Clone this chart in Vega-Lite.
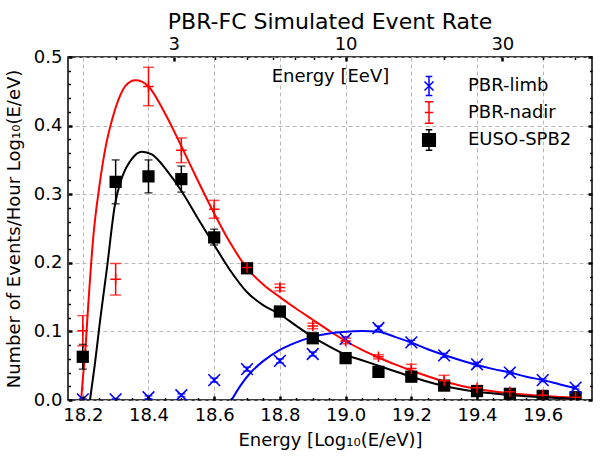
{
  "$schema": "https://vega.github.io/schema/vega-lite/v6.json",
  "width": 524,
  "height": 343,
  "autosize": {"type": "none"},
  "padding": {"left": 68, "top": 57, "right": 21, "bottom": 57},
  "title": {"text": "PBR-FC Simulated Event Rate", "offset": 1, "anchor": "middle"},
  "datasets": {
    "pts": [
      {"s": "EUSO-SPB2", "e": 18.2, "v": 0.063, "lo": 0.045, "hi": 0.081},
      {"s": "EUSO-SPB2", "e": 18.3, "v": 0.318, "lo": 0.286, "hi": 0.350},
      {"s": "EUSO-SPB2", "e": 18.4, "v": 0.326, "lo": 0.302, "hi": 0.350},
      {"s": "EUSO-SPB2", "e": 18.5, "v": 0.322, "lo": 0.303, "hi": 0.341},
      {"s": "EUSO-SPB2", "e": 18.6, "v": 0.237, "lo": 0.226, "hi": 0.249},
      {"s": "EUSO-SPB2", "e": 18.7, "v": 0.192, "lo": 0.186, "hi": 0.198},
      {"s": "EUSO-SPB2", "e": 18.8, "v": 0.129, "lo": 0.124, "hi": 0.134},
      {"s": "EUSO-SPB2", "e": 18.9, "v": 0.090, "lo": 0.086, "hi": 0.094},
      {"s": "EUSO-SPB2", "e": 19.0, "v": 0.061, "lo": 0.058, "hi": 0.064},
      {"s": "EUSO-SPB2", "e": 19.1, "v": 0.041, "lo": 0.038, "hi": 0.044},
      {"s": "EUSO-SPB2", "e": 19.2, "v": 0.034, "lo": 0.031, "hi": 0.037},
      {"s": "EUSO-SPB2", "e": 19.3, "v": 0.021, "lo": 0.019, "hi": 0.023},
      {"s": "EUSO-SPB2", "e": 19.4, "v": 0.013, "lo": 0.011, "hi": 0.015},
      {"s": "EUSO-SPB2", "e": 19.5, "v": 0.009, "lo": 0.008, "hi": 0.010},
      {"s": "EUSO-SPB2", "e": 19.6, "v": 0.006, "lo": 0.005, "hi": 0.007},
      {"s": "EUSO-SPB2", "e": 19.7, "v": 0.004, "lo": 0.003, "hi": 0.005},
      {"s": "PBR-nadir", "e": 18.2, "v": 0.101, "lo": 0.079, "hi": 0.123},
      {"s": "PBR-nadir", "e": 18.3, "v": 0.176, "lo": 0.153, "hi": 0.199},
      {"s": "PBR-nadir", "e": 18.4, "v": 0.457, "lo": 0.429, "hi": 0.485},
      {"s": "PBR-nadir", "e": 18.5, "v": 0.364, "lo": 0.346, "hi": 0.382},
      {"s": "PBR-nadir", "e": 18.6, "v": 0.278, "lo": 0.265, "hi": 0.291},
      {"s": "PBR-nadir", "e": 18.7, "v": 0.193, "lo": 0.187, "hi": 0.199},
      {"s": "PBR-nadir", "e": 18.8, "v": 0.164, "lo": 0.159, "hi": 0.169},
      {"s": "PBR-nadir", "e": 18.9, "v": 0.108, "lo": 0.104, "hi": 0.112},
      {"s": "PBR-nadir", "e": 19.0, "v": 0.086, "lo": 0.082, "hi": 0.090},
      {"s": "PBR-nadir", "e": 19.1, "v": 0.063, "lo": 0.060, "hi": 0.066},
      {"s": "PBR-nadir", "e": 19.2, "v": 0.046, "lo": 0.040, "hi": 0.052},
      {"s": "PBR-nadir", "e": 19.3, "v": 0.028, "lo": 0.020, "hi": 0.036},
      {"s": "PBR-nadir", "e": 19.4, "v": 0.018, "lo": 0.015, "hi": 0.021},
      {"s": "PBR-nadir", "e": 19.5, "v": 0.012, "lo": 0.010, "hi": 0.014},
      {"s": "PBR-nadir", "e": 19.6, "v": 0.007, "lo": 0.005, "hi": 0.009},
      {"s": "PBR-nadir", "e": 19.7, "v": 0.004, "lo": 0.003, "hi": 0.005},
      {"s": "PBR-limb", "e": 18.2, "v": 0.001, "lo": 0.000, "hi": 0.002},
      {"s": "PBR-limb", "e": 18.3, "v": 0.001, "lo": 0.000, "hi": 0.002},
      {"s": "PBR-limb", "e": 18.4, "v": 0.004, "lo": 0.002, "hi": 0.006},
      {"s": "PBR-limb", "e": 18.5, "v": 0.007, "lo": 0.005, "hi": 0.009},
      {"s": "PBR-limb", "e": 18.6, "v": 0.029, "lo": 0.026, "hi": 0.032},
      {"s": "PBR-limb", "e": 18.7, "v": 0.045, "lo": 0.042, "hi": 0.048},
      {"s": "PBR-limb", "e": 18.8, "v": 0.057, "lo": 0.054, "hi": 0.060},
      {"s": "PBR-limb", "e": 18.9, "v": 0.067, "lo": 0.064, "hi": 0.070},
      {"s": "PBR-limb", "e": 19.0, "v": 0.089, "lo": 0.086, "hi": 0.092},
      {"s": "PBR-limb", "e": 19.1, "v": 0.105, "lo": 0.102, "hi": 0.108},
      {"s": "PBR-limb", "e": 19.2, "v": 0.084, "lo": 0.081, "hi": 0.087},
      {"s": "PBR-limb", "e": 19.3, "v": 0.065, "lo": 0.062, "hi": 0.068},
      {"s": "PBR-limb", "e": 19.4, "v": 0.052, "lo": 0.049, "hi": 0.055},
      {"s": "PBR-limb", "e": 19.5, "v": 0.040, "lo": 0.038, "hi": 0.042},
      {"s": "PBR-limb", "e": 19.6, "v": 0.029, "lo": 0.027, "hi": 0.031},
      {"s": "PBR-limb", "e": 19.7, "v": 0.018, "lo": 0.016, "hi": 0.020}
    ],
    "fit": [
      {"s": "PBR-nadir", "e": 18.195, "v": 0.0},
      {"s": "PBR-nadir", "e": 18.2, "v": 0.03},
      {"s": "PBR-nadir", "e": 18.207, "v": 0.068},
      {"s": "PBR-nadir", "e": 18.217, "v": 0.141},
      {"s": "PBR-nadir", "e": 18.232, "v": 0.238},
      {"s": "PBR-nadir", "e": 18.25, "v": 0.31},
      {"s": "PBR-nadir", "e": 18.27, "v": 0.37},
      {"s": "PBR-nadir", "e": 18.29, "v": 0.41},
      {"s": "PBR-nadir", "e": 18.313, "v": 0.443},
      {"s": "PBR-nadir", "e": 18.33, "v": 0.458},
      {"s": "PBR-nadir", "e": 18.36, "v": 0.466},
      {"s": "PBR-nadir", "e": 18.38, "v": 0.464},
      {"s": "PBR-nadir", "e": 18.4, "v": 0.457},
      {"s": "PBR-nadir", "e": 18.45, "v": 0.418},
      {"s": "PBR-nadir", "e": 18.5, "v": 0.37},
      {"s": "PBR-nadir", "e": 18.55, "v": 0.32},
      {"s": "PBR-nadir", "e": 18.6, "v": 0.272},
      {"s": "PBR-nadir", "e": 18.65, "v": 0.228},
      {"s": "PBR-nadir", "e": 18.7, "v": 0.192},
      {"s": "PBR-nadir", "e": 18.75, "v": 0.168},
      {"s": "PBR-nadir", "e": 18.8, "v": 0.15},
      {"s": "PBR-nadir", "e": 18.85, "v": 0.133},
      {"s": "PBR-nadir", "e": 18.9, "v": 0.117},
      {"s": "PBR-nadir", "e": 18.95, "v": 0.101},
      {"s": "PBR-nadir", "e": 19.0, "v": 0.086},
      {"s": "PBR-nadir", "e": 19.05, "v": 0.073},
      {"s": "PBR-nadir", "e": 19.1, "v": 0.062},
      {"s": "PBR-nadir", "e": 19.15, "v": 0.052},
      {"s": "PBR-nadir", "e": 19.2, "v": 0.043},
      {"s": "PBR-nadir", "e": 19.3, "v": 0.027},
      {"s": "PBR-nadir", "e": 19.4, "v": 0.016},
      {"s": "PBR-nadir", "e": 19.5, "v": 0.0097},
      {"s": "PBR-nadir", "e": 19.6, "v": 0.0058},
      {"s": "PBR-nadir", "e": 19.7, "v": 0.0034},
      {"s": "EUSO-SPB2", "e": 18.222, "v": 0.0},
      {"s": "EUSO-SPB2", "e": 18.237, "v": 0.053},
      {"s": "EUSO-SPB2", "e": 18.253, "v": 0.117},
      {"s": "EUSO-SPB2", "e": 18.273, "v": 0.19},
      {"s": "EUSO-SPB2", "e": 18.298, "v": 0.285},
      {"s": "EUSO-SPB2", "e": 18.32, "v": 0.325},
      {"s": "EUSO-SPB2", "e": 18.35, "v": 0.352},
      {"s": "EUSO-SPB2", "e": 18.38, "v": 0.362},
      {"s": "EUSO-SPB2", "e": 18.41, "v": 0.358},
      {"s": "EUSO-SPB2", "e": 18.435, "v": 0.347},
      {"s": "EUSO-SPB2", "e": 18.455, "v": 0.335},
      {"s": "EUSO-SPB2", "e": 18.5, "v": 0.305},
      {"s": "EUSO-SPB2", "e": 18.55, "v": 0.265},
      {"s": "EUSO-SPB2", "e": 18.6, "v": 0.226},
      {"s": "EUSO-SPB2", "e": 18.65, "v": 0.188},
      {"s": "EUSO-SPB2", "e": 18.7, "v": 0.157},
      {"s": "EUSO-SPB2", "e": 18.75, "v": 0.138},
      {"s": "EUSO-SPB2", "e": 18.8, "v": 0.125},
      {"s": "EUSO-SPB2", "e": 18.85, "v": 0.108},
      {"s": "EUSO-SPB2", "e": 18.9, "v": 0.092},
      {"s": "EUSO-SPB2", "e": 18.95, "v": 0.078},
      {"s": "EUSO-SPB2", "e": 19.0, "v": 0.066},
      {"s": "EUSO-SPB2", "e": 19.05, "v": 0.058},
      {"s": "EUSO-SPB2", "e": 19.1, "v": 0.05},
      {"s": "EUSO-SPB2", "e": 19.15, "v": 0.042},
      {"s": "EUSO-SPB2", "e": 19.2, "v": 0.034},
      {"s": "EUSO-SPB2", "e": 19.3, "v": 0.0204},
      {"s": "EUSO-SPB2", "e": 19.4, "v": 0.012},
      {"s": "EUSO-SPB2", "e": 19.5, "v": 0.0073},
      {"s": "EUSO-SPB2", "e": 19.6, "v": 0.004},
      {"s": "EUSO-SPB2", "e": 19.7, "v": 0.002},
      {"s": "PBR-limb", "e": 18.653, "v": 0.0},
      {"s": "PBR-limb", "e": 18.68, "v": 0.021},
      {"s": "PBR-limb", "e": 18.709, "v": 0.039},
      {"s": "PBR-limb", "e": 18.75, "v": 0.057},
      {"s": "PBR-limb", "e": 18.8, "v": 0.073},
      {"s": "PBR-limb", "e": 18.85, "v": 0.084},
      {"s": "PBR-limb", "e": 18.9, "v": 0.092},
      {"s": "PBR-limb", "e": 18.95, "v": 0.097},
      {"s": "PBR-limb", "e": 19.0, "v": 0.0996},
      {"s": "PBR-limb", "e": 19.05, "v": 0.1005},
      {"s": "PBR-limb", "e": 19.1, "v": 0.0995},
      {"s": "PBR-limb", "e": 19.15, "v": 0.092},
      {"s": "PBR-limb", "e": 19.2, "v": 0.0836},
      {"s": "PBR-limb", "e": 19.25, "v": 0.074},
      {"s": "PBR-limb", "e": 19.3, "v": 0.0656},
      {"s": "PBR-limb", "e": 19.35, "v": 0.058},
      {"s": "PBR-limb", "e": 19.4, "v": 0.051},
      {"s": "PBR-limb", "e": 19.45, "v": 0.045},
      {"s": "PBR-limb", "e": 19.5, "v": 0.04},
      {"s": "PBR-limb", "e": 19.55, "v": 0.034},
      {"s": "PBR-limb", "e": 19.6, "v": 0.029},
      {"s": "PBR-limb", "e": 19.65, "v": 0.023},
      {"s": "PBR-limb", "e": 19.7, "v": 0.017}
    ]
  },
  "resolve": {"axis": {"x": "independent", "y": "independent"}},
  "layer": [
    {
      "data": {"name": "fit"},
      "mark": {"type": "line", "strokeWidth": 2, "interpolate": "monotone", "clip": true},
      "encoding": {
        "x": {"field": "e", "type": "quantitative", "scale": {"domain": [18.155, 19.75], "nice": false, "zero": false},
          "axis": {"orient": "bottom", "values": [18.2, 18.4, 18.6, 18.8, 19.0, 19.2, 19.4, 19.6], "format": ".1f", "ticks": false, "grid": true, "gridDash": [4, 3], "gridColor": "#b8b8b8", "gridWidth": 1, "labelPadding": 6, "labelOverlap": false, "labelFlush": false, "title": "Energy [Log₁₀(E/eV)]", "titlePadding": 7}},
        "y": {"field": "v", "type": "quantitative", "scale": {"domain": [0, 0.5], "nice": false},
          "axis": {"orient": "left", "values": [0, 0.1, 0.2, 0.3, 0.4, 0.5], "format": ".1f", "ticks": false, "grid": true, "gridDash": [4, 3], "gridColor": "#b8b8b8", "gridWidth": 1, "labelPadding": 6, "labelOverlap": false, "labelFlush": false, "title": "Number of Events/Hour Log₁₀(E/eV)", "titlePadding": 10}},
        "color": {"condition": [{"test": "datum.s === 'PBR-limb'", "value": "#0000ff"}, {"test": "datum.s === 'PBR-nadir'", "value": "#ff0000"}], "value": "#000000"},
        "detail": {"field": "s"}
      }
    },
    {
      "data": {"name": "pts"},
      "mark": {"type": "rule", "strokeWidth": 1.5, "clip": true},
      "encoding": {
        "x": {"field": "e", "type": "quantitative",
          "axis": {"orient": "bottom", "values": [18.2, 18.4, 18.6, 18.8, 19.0, 19.2, 19.4, 19.6], "labels": false, "ticks": true, "tickSize": 4, "tickWidth": 2.5, "offset": -4, "grid": false, "title": null, "zindex": 1}},
        "y": {"field": "lo", "type": "quantitative",
          "axis": {"orient": "left", "values": [0, 0.1, 0.2, 0.3, 0.4, 0.5], "labels": false, "ticks": true, "tickSize": 4, "tickWidth": 2.5, "offset": -4, "grid": false, "title": null, "zindex": 1}},
        "y2": {"field": "hi"},
        "color": {"condition": [{"test": "datum.s === 'PBR-limb'", "value": "#0000ff"}, {"test": "datum.s === 'PBR-nadir'", "value": "#ff0000"}], "value": "#000000"}
      }
    },
    {
      "data": {"name": "pts"},
      "mark": {"type": "tick", "orient": "horizontal", "thickness": 1.5, "clip": true},
      "encoding": {
        "x": {"field": "e", "type": "quantitative",
          "axis": {"orient": "bottom", "values": [18.25, 18.3, 18.35, 18.45, 18.5, 18.55, 18.65, 18.7, 18.75, 18.85, 18.9, 18.95, 19.05, 19.1, 19.15, 19.25, 19.3, 19.35, 19.45, 19.5, 19.55, 19.65, 19.7], "labels": false, "ticks": true, "tickSize": 2.5, "tickWidth": 1.5, "offset": -2.5, "grid": false, "title": null, "zindex": 1}},
        "y": {"field": "lo", "type": "quantitative",
          "axis": {"orient": "left", "values": [0.02, 0.04, 0.06, 0.08, 0.12, 0.14, 0.16, 0.18, 0.22, 0.24, 0.26, 0.28, 0.32, 0.34, 0.36, 0.38, 0.42, 0.44, 0.46, 0.48], "labels": false, "ticks": true, "tickSize": 2.5, "tickWidth": 1.5, "offset": -2.5, "grid": false, "title": null, "zindex": 1}},
        "color": {"condition": [{"test": "datum.s === 'PBR-limb'", "value": "#0000ff"}, {"test": "datum.s === 'PBR-nadir'", "value": "#ff0000"}], "value": "#000000"},
        "size": {"condition": {"test": "datum.s === 'PBR-nadir'", "value": 11}, "value": 8}
      }
    },
    {
      "data": {"name": "pts"},
      "mark": {"type": "tick", "orient": "horizontal", "thickness": 1.5, "clip": true},
      "encoding": {
        "x": {"field": "e", "type": "quantitative",
          "axis": {"orient": "top", "values": [18.4771, 19.0, 19.4771], "labelExpr": "datum.value < 18.7 ? '3' : (datum.value < 19.2 ? '10' : '30')", "ticks": false, "labelPadding": 4, "labelOverlap": false, "labelFlush": false, "grid": false, "title": "Energy [EeV]", "titleX": 262, "titleY": 19, "titleAlign": "center", "titleBaseline": "middle"}},
        "y": {"field": "hi", "type": "quantitative",
          "axis": {"orient": "right", "values": [0, 0.1, 0.2, 0.3, 0.4, 0.5], "labels": false, "ticks": true, "tickSize": 4, "tickWidth": 2.5, "offset": -4, "grid": false, "title": null, "zindex": 1}},
        "color": {"condition": [{"test": "datum.s === 'PBR-limb'", "value": "#0000ff"}, {"test": "datum.s === 'PBR-nadir'", "value": "#ff0000"}], "value": "#000000"},
        "size": {"condition": {"test": "datum.s === 'PBR-nadir'", "value": 11}, "value": 8}
      }
    },
    {
      "data": {"name": "pts"},
      "transform": [{"filter": "datum.s === 'EUSO-SPB2'"}],
      "mark": {"type": "point", "shape": "square", "size": 150, "filled": true, "color": "#000000", "opacity": 1, "clip": true},
      "encoding": {
        "x": {"field": "e", "type": "quantitative",
          "axis": {"orient": "top", "values": [18.4771, 19.0, 19.4771], "labels": false, "ticks": true, "tickSize": 4, "tickWidth": 2.5, "offset": -4, "grid": false, "title": null, "zindex": 1}},
        "y": {"field": "v", "type": "quantitative",
          "axis": {"orient": "right", "values": [0.02, 0.04, 0.06, 0.08, 0.12, 0.14, 0.16, 0.18, 0.22, 0.24, 0.26, 0.28, 0.32, 0.34, 0.36, 0.38, 0.42, 0.44, 0.46, 0.48], "labels": false, "ticks": true, "tickSize": 2.5, "tickWidth": 1.5, "offset": -2.5, "grid": false, "title": null, "zindex": 1}}
      }
    },
    {
      "data": {"name": "pts"},
      "transform": [{"filter": "datum.s === 'PBR-limb'"}],
      "mark": {"type": "point", "shape": "M-1,-1L1,1M-1,1L1,-1", "size": 137, "filled": false, "stroke": "#0000ff", "strokeWidth": 1.6, "opacity": 1, "clip": true},
      "encoding": {
        "x": {"field": "e", "type": "quantitative",
          "axis": {"orient": "top", "values": [18.301, 18.6021, 18.699, 18.7782, 18.8451, 18.9031, 18.9542, 19.301, 19.6021, 19.699], "labels": false, "ticks": true, "tickSize": 2.5, "tickWidth": 1.5, "offset": -2.5, "grid": false, "title": null, "zindex": 1}},
        "y": {"field": "v", "type": "quantitative", "axis": null}
      }
    },
    {
      "data": {"name": "pts"},
      "transform": [{"filter": "datum.s === 'PBR-nadir'"}],
      "mark": {"type": "point", "shape": "M-1,0L1,0M0,-1L0,1", "size": 110, "filled": false, "stroke": "#ff0000", "strokeWidth": 1.5, "opacity": 1, "clip": true},
      "encoding": {
        "x": {"field": "e", "type": "quantitative", "axis": null},
        "y": {"field": "v", "type": "quantitative", "axis": null}
      }
    },
    {
      "data": {"name": "pts"},
      "mark": {"type": "point", "filled": true, "opacity": 0, "strokeWidth": 1.5},
      "encoding": {
        "x": {"field": "e", "type": "quantitative", "axis": null},
        "y": {"field": "v", "type": "quantitative", "axis": null},
        "color": {"field": "s", "type": "nominal", "scale": {"domain": ["PBR-limb", "PBR-nadir", "EUSO-SPB2"], "range": ["#0000ff", "#ff0000", "#000000"]}, "legend": {"title": null, "symbolOpacity": 1}},
        "stroke": {"field": "s", "type": "nominal", "scale": {"domain": ["PBR-limb", "PBR-nadir", "EUSO-SPB2"], "range": ["#0000ff", "#ff0000", "#000000"]}, "legend": {"title": null, "symbolOpacity": 1}},
        "shape": {"field": "s", "type": "nominal", "scale": {"domain": ["PBR-limb", "PBR-nadir", "EUSO-SPB2"], "range": [
          "M-0.75,-0.75L0.75,0.75M-0.75,0.75L0.75,-0.75M0,-1.6L0,1.6M-0.55,-1.6L0.55,-1.6M-0.55,1.6L0.55,1.6",
          "M0,-1.8L0,1.8M-0.7,-1.8L0.7,-1.8M-0.7,1.8L0.7,1.8M-0.7,0L0.7,0",
          "M-1.05,-1.05L1.05,-1.05L1.05,1.05L-1.05,1.05ZM0,-1.7L0,1.7M-0.55,-1.7L0.55,-1.7M-0.55,1.7L0.55,1.7"
        ]}, "legend": {"title": null, "symbolOpacity": 1}}
      }
    }
  ],
  "config": {
    "view": {"stroke": "#000000", "strokeWidth": 1.5},
    "font": "DejaVu Sans",
    "title": {"font": "DejaVu Sans", "fontSize": 22, "fontWeight": "normal", "color": "#000000"},
    "axis": {"domain": false, "labelFont": "DejaVu Sans", "titleFont": "DejaVu Sans", "labelFontSize": 18, "titleFontSize": 18, "titleFontWeight": "normal", "labelColor": "#000000", "titleColor": "#000000", "tickColor": "#000000"},
    "legend": {"orient": "top-right", "offset": 20, "padding": 0, "labelFont": "DejaVu Sans", "labelFontSize": 18, "labelColor": "#000000", "symbolSize": 144, "symbolStrokeWidth": 1.5, "labelOffset": 30, "rowPadding": -0.5}
  }
}
